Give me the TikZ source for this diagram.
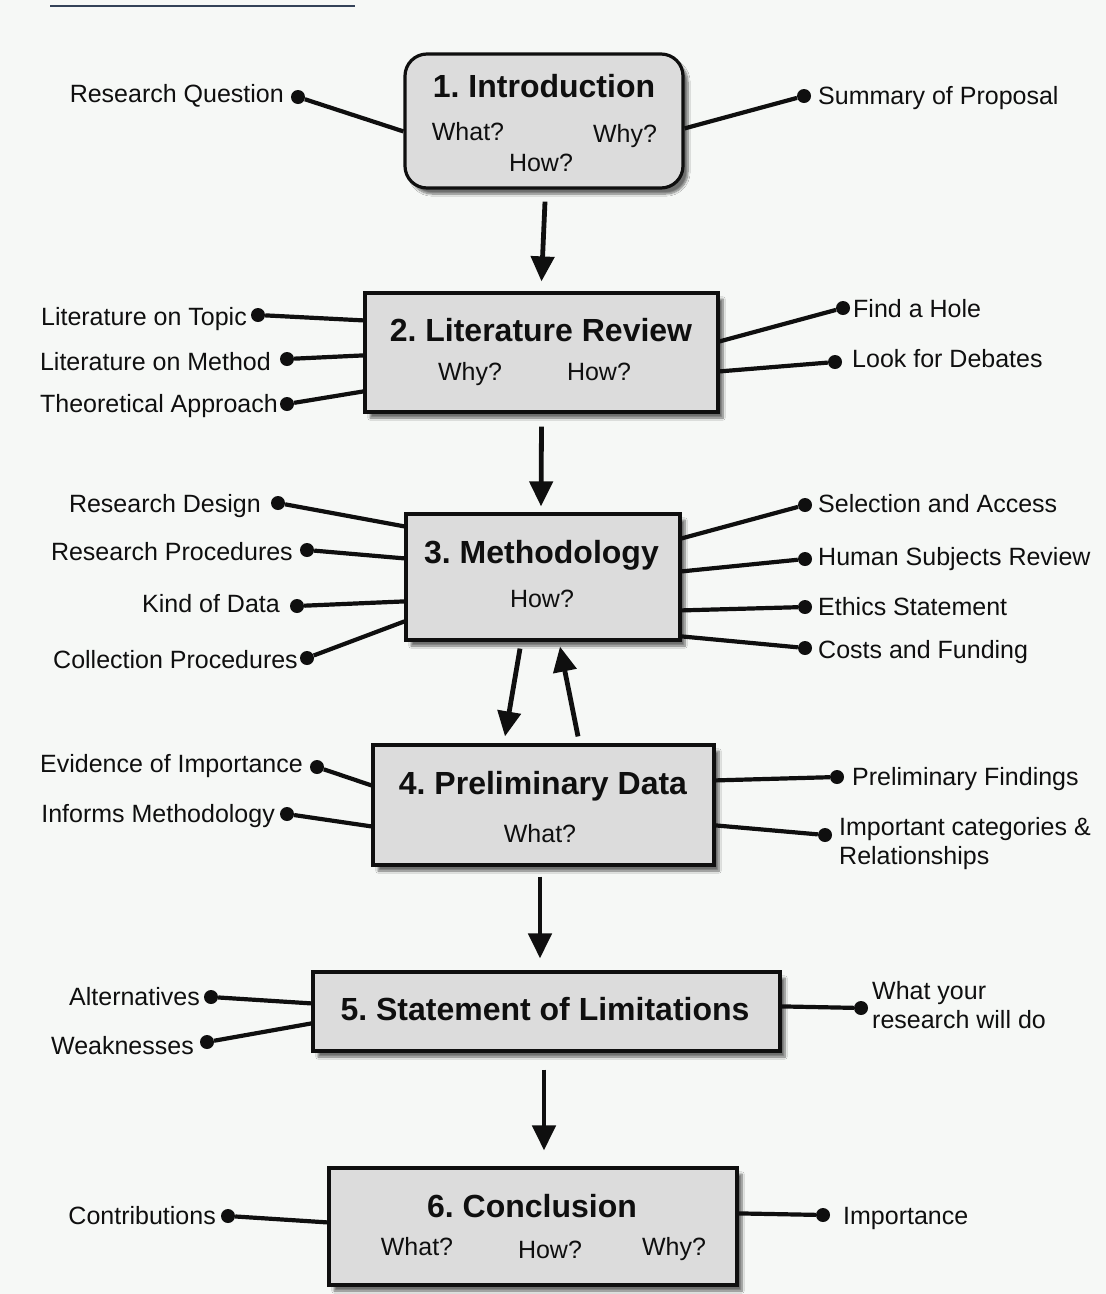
\documentclass[tikz,border=0pt]{standalone}
\usepackage{fontspec}
\setmainfont{Liberation Sans}
\usetikzlibrary{arrows.meta,calc,shadows.blur}
\definecolor{paper}{RGB}{246,248,246}
\definecolor{boxgray}{RGB}{220,220,220}
\definecolor{inkblack}{RGB}{15,15,15}
\definecolor{tabbar}{RGB}{52,66,88}
\frenchspacing
\tikzset{
  stage/.style={draw=inkblack,line width=3.2pt,fill=boxgray,inner sep=0pt,
    blur shadow={shadow xshift=5pt,shadow yshift=-6pt,shadow blur steps=8,shadow opacity=55}},
  headline/.style={anchor=base,inner sep=0pt,text=inkblack,font=\fontsize{32}{36}\selectfont\bfseries},
  ask/.style={anchor=base,inner sep=0pt,text=inkblack,font=\fontsize{25}{29}\selectfont},
  lefttag/.style={anchor=base east,inner sep=0pt,text=inkblack,font=\fontsize{25}{29}\selectfont},
  righttag/.style={anchor=base west,inner sep=0pt,text=inkblack,font=\fontsize{25}{29}\selectfont,align=left},
  dot/.style={circle,fill=inkblack,inner sep=0pt,minimum size=14pt},
  conn/.style={draw=inkblack,line width=4.2pt},
  flow/.style={draw=inkblack,line width=4.8pt,-{Triangle[length=25pt,width=23pt]}}
}
\begin{document}
\begin{tikzpicture}[x=1pt,y=-1pt]
  \useasboundingbox (0,0) rectangle (1106,1294);
  \fill[paper] (0,0) rectangle (1106,1294);
  \draw[tabbar,line width=2pt] (50,6) -- (355,6);

  %the six stages
  \node[stage,rounded corners=22pt,minimum width=278pt,minimum height=134pt] (intro) at (544,121) {};
  \node[stage,minimum width=353pt,minimum height=119pt] (litrev) at (541.5,352.5) {};
  \node[stage,minimum width=274pt,minimum height=126pt] (method) at (543,577) {};
  \node[stage,minimum width=341pt,minimum height=120pt] (prelim) at (543.5,805) {};
  \node[stage,minimum width=467pt,minimum height=79pt] (limits) at (546.5,1011.5) {};
  \node[stage,minimum width=408pt,minimum height=117pt] (concl) at (533,1226.5) {};

  %texts inside the stages
  \node[headline] (introT) at (544,97) {1. Introduction};
  \node[ask] (introA) at (468,140) {What?};
  \node[ask] (introB) at (625,142) {Why?};
  \node[ask] (introC) at (541,171) {How?};
  \node[headline] (litrevT) at (541,341) {2. Literature Review};
  \node[ask] (litrevA) at (470,380) {Why?};
  \node[ask] (litrevB) at (599,380) {How?};
  \node[headline] (methodT) at (541.5,563) {3. Methodology};
  \node[ask] (methodA) at (542,607) {How?};
  \node[headline] (prelimT) at (543,794) {4. Preliminary Data};
  \node[ask] (prelimA) at (540,842) {What?};
  \node[headline] (limitsT) at (545,1020) {5. Statement of Limitations};
  \node[headline] (conclT) at (532,1217) {6. Conclusion};
  \node[ask] (conclA) at (417,1255) {What?};
  \node[ask] (conclB) at (550,1258) {How?};
  \node[ask] (conclC) at (674,1255) {Why?};

  %arrows between the stages
  \draw[flow] ($(intro.south)+(1,12)$) -- ($(litrev.north)+(0,-10)$);
  \draw[flow] ($(litrev.south)+(0,13)$) -- ($(method.north)+(-2,-6)$);
  \draw[flow] ($(method.south)+(-23,7)$) -- ($(prelim.north)+(-38.5,-7)$);
  \draw[flow] ($(prelim.north)+(34.5,-7)$) -- ($(method.south)+(17,5)$);
  \draw[flow] ($(prelim.south)+(-3.5,10)$) -- ($(limits.north)+(-6.5,-12)$);
  \draw[flow] ($(limits.south)+(-2.5,17)$) -- ($(concl.north)+(11,-16)$);

  %1. introduction
  \node[lefttag] (rq) at (284,102) {Research Question};
  \node[dot] (rqd) at (298,97) {};
  \draw[conn] (rqd) -- ($(intro.north west)+(0,79)$);
  \node[righttag] (sp) at (818,104) {Summary of Proposal};
  \node[dot] (spd) at (804,96) {};
  \draw[conn] (spd) -- ($(intro.north east)+(0,76)$);

  %2. literature review
  \node[lefttag] (lt) at (247,325) {Literature on Topic};
  \node[dot] (ltd) at (258,315) {};
  \draw[conn] (ltd) -- ($(litrev.north west)+(0,29)$);
  \node[lefttag] (lm) at (271,370) {Literature on Method};
  \node[dot] (lmd) at (287,359) {};
  \draw[conn] (lmd) -- ($(litrev.north west)+(0,64)$);
  \node[lefttag] (ta) at (278,412) {Theoretical Approach};
  \node[dot] (tad) at (287,404) {};
  \draw[conn] (tad) -- ($(litrev.north west)+(0,100)$);
  \node[righttag] (fh) at (853,317) {Find a Hole};
  \node[dot] (fhd) at (843,308) {};
  \draw[conn] (fhd) -- ($(litrev.north east)+(0,50)$);
  \node[righttag] (ld) at (852,367) {Look for Debates};
  \node[dot] (ldd) at (835,362) {};
  \draw[conn] (ldd) -- ($(litrev.north east)+(0,80)$);

  %3. methodology
  \node[lefttag] (rd) at (261,512) {Research Design};
  \node[dot] (rdd) at (278,503) {};
  \draw[conn] (rdd) -- ($(method.north west)+(0,14)$);
  \node[lefttag] (rp) at (293,560) {Research Procedures};
  \node[dot] (rpd) at (307,550) {};
  \draw[conn] (rpd) -- ($(method.north west)+(0,46)$);
  \node[lefttag] (kd) at (280,612) {Kind of Data};
  \node[dot] (kdd) at (297,606) {};
  \draw[conn] (kdd) -- ($(method.north west)+(0,89)$);
  \node[lefttag] (cp) at (298,668) {Collection Procedures};
  \node[dot] (cpd) at (307,658) {};
  \draw[conn] (cpd) -- ($(method.north west)+(0,109)$);
  \node[righttag] (sa) at (818,512) {Selection and Access};
  \node[dot] (sad) at (805,505) {};
  \draw[conn] (sad) -- ($(method.north east)+(0,26)$);
  \node[righttag] (hs) at (818,565) {Human Subjects Review};
  \node[dot] (hsd) at (805,559) {};
  \draw[conn] (hsd) -- ($(method.north east)+(0,59)$);
  \node[righttag] (es) at (818,615) {Ethics Statement};
  \node[dot] (esd) at (805,607) {};
  \draw[conn] (esd) -- ($(method.north east)+(0,98)$);
  \node[righttag] (cf) at (818,658) {Costs and Funding};
  \node[dot] (cfd) at (805,648) {};
  \draw[conn] (cfd) -- ($(method.north east)+(0,124)$);

  %4. preliminary data
  \node[lefttag] (ei) at (303,772) {Evidence of Importance};
  \node[dot] (eid) at (317,767) {};
  \draw[conn] (eid) -- ($(prelim.north west)+(0,42)$);
  \node[lefttag] (im) at (275,822) {Informs Methodology};
  \node[dot] (imd) at (287,814) {};
  \draw[conn] (imd) -- ($(prelim.north west)+(0,83)$);
  \node[righttag] (pf) at (852,785) {Preliminary Findings};
  \node[dot] (pfd) at (837,777) {};
  \draw[conn] (pfd) -- ($(prelim.north east)+(0,37)$);
  \node[righttag,anchor=north west] (ic) at (839,817) {Important categories \&\\Relationships};
  \node[dot] (icd) at (825,835) {};
  \draw[conn] (icd) -- ($(prelim.north east)+(0,82)$);

  %5. statement of limitations
  \node[lefttag] (al) at (200,1005) {Alternatives};
  \node[dot] (ald) at (211,997) {};
  \draw[conn] (ald) -- ($(limits.north west)+(0,33)$);
  \node[lefttag] (wk) at (194,1054) {Weaknesses};
  \node[dot] (wkd) at (207,1042) {};
  \draw[conn] (wkd) -- ($(limits.north west)+(0,53)$);
  \node[righttag,anchor=north west] (wy) at (872,981) {What your\\research will do};
  \node[dot] (wyd) at (861,1008) {};
  \draw[conn] (wyd) -- ($(limits.north east)+(0,36)$);

  %6. conclusion
  \node[lefttag] (co) at (216,1224) {Contributions};
  \node[dot] (cod) at (228,1216) {};
  \draw[conn] (cod) -- ($(concl.north west)+(0,56)$);
  \node[righttag] (ip) at (843,1224) {Importance};
  \node[dot] (ipd) at (823,1215) {};
  \draw[conn] (ipd) -- ($(concl.north east)+(0,47)$);
\end{tikzpicture}
\end{document}
